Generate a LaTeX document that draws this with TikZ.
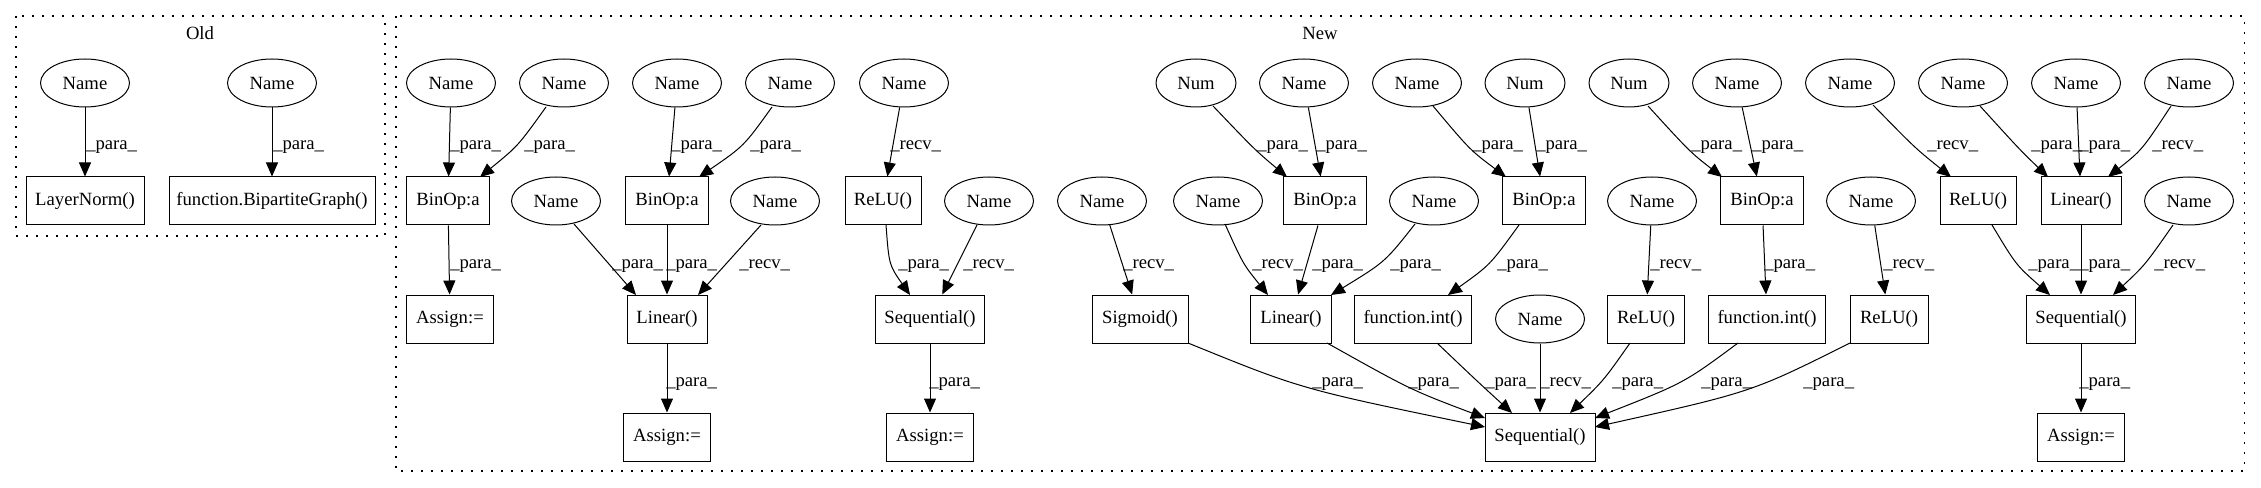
\documentclass[tikz,border=0pt]{standalone}
\usepackage{fontspec}
\setmainfont{Liberation Serif}
\usetikzlibrary{shapes.geometric,arrows.meta,calc}
\begin{document}
\begin{tikzpicture}[x=0.75pt,y=-0.75pt,
  every node/.style={font=\fontsize{14pt}{16pt}\selectfont},
  nm/.style={ellipse,draw,line width=0.75pt,minimum width=66.75pt,minimum height=36pt,inner sep=0pt},
  nu/.style={nm,minimum width=60pt},
  bx/.style={rectangle,draw,line width=0.75pt,minimum height=36pt,minimum width=#1*0.75pt,inner sep=0pt},
  lb/.style={inner sep=0pt,anchor=base west},
  e/.style={line width=0.75pt,-{Triangle[length=10.5pt,width=9pt]}},
  cl/.style={line width=0.8pt,dash pattern=on 1.5pt off 6pt}]
\useasboundingbox (0,0) rectangle (2261,488);
\draw[cl] (16,16) rectangle (385,236);
\draw[cl] (396,16) rectangle (2244,471);
\node (tOld) at (200,33) {Old};
\node (tNew) at (1320,33) {New};
% Old
\node[nm] (o1) at (85,83) {Name};
\node[nm] (o2) at (272,83) {Name};
\node[bx=118] (oLN) at (85,201) {LayerNorm()};
\node[bx=206] (oBG) at (272,201) {function.BipartiteGraph()};
% New row 1
\node[nm] (n1) at (451,83) {Name};
\node[nm] (n2) at (564,83) {Name};
\node[nm] (n3) at (677,83) {Name};
\node[nm] (n4) at (790,83) {Name};
\node[nm] (n5) at (904,83) {Name};
\node[nu] (n6) at (1196,83) {Num};
\node[nm] (n7) at (1304,83) {Name};
\node[nm] (n8) at (1417,83) {Name};
\node[nu] (n9) at (1525,83) {Num};
\node[nu] (n10) at (1629,83) {Num};
\node[nm] (n11) at (1737,83) {Name};
\node[nm] (n12) at (1850,83) {Name};
\node[nm] (n13) at (1963,83) {Name};
\node[nm] (n14) at (2076,83) {Name};
\node[nm] (n15) at (2189,83) {Name};
% row 2
\node[bx=83] (b1) at (448,201) {BinOp:a};
\node[nm] (m1) at (556,201) {Name};
\node[bx=83] (b2) at (667,201) {BinOp:a};
\node[nm] (m2) at (775,201) {Name};
\node[bx=76] (r1) at (883,201) {ReLU()};
\node[nm] (m3) at (989,201) {Name};
\node[nm] (m4) at (1102,201) {Name};
\node[nm] (m5) at (1218,201) {Name};
\node[bx=83] (b3) at (1325,201) {BinOp:a};
\node[nm] (m6) at (1434,201) {Name};
\node[bx=83] (b4) at (1544,201) {BinOp:a};
\node[nm] (m7) at (1652,201) {Name};
\node[bx=83] (b5) at (1762,201) {BinOp:a};
\node[nm] (m8) at (1871,201) {Name};
\node[bx=76] (r2) at (1978,201) {ReLU()};
\node[bx=80] (l3) at (2081,201) {Linear()};
\node[nm] (m9) at (2189,201) {Name};
% row 3
\node[bx=87] (a1) at (450,319) {Assign:=};
\node[bx=80] (l1) at (667,319) {Linear()};
\node[bx=109] (s1) at (930,319) {Sequential()};
\node[bx=96] (sg) at (1140,319) {Sigmoid()};
\node[bx=81] (l2) at (1291,319) {Linear()};
\node[bx=117] (f1) at (1413,319) {function.int()};
\node[nm] (q1) at (1540,319) {Name};
\node[bx=77] (r3) at (1646,319) {ReLU()};
\node[bx=117] (f2) at (1767,319) {function.int()};
\node[bx=78] (r4) at (1889,319) {ReLU()};
\node[bx=109] (s3) at (2081,319) {Sequential()};
% row 4
\node[bx=87] (a2) at (667,437) {Assign:=};
\node[bx=87] (a3) at (930,437) {Assign:=};
\node[bx=110] (S) at (1540,437) {Sequential()};
\node[bx=87] (a4) at (2081,437) {Assign:=};
% edges
\draw[e] (o1) -- (oLN);
\draw[e] (o2) -- (oBG);
\draw[e] (n1) -- (b1);
\draw[e] ($(n2)+(-18,24)$) .. controls (518,146) .. ($(b1)+(32,-24)$);
\draw[e] (b1) -- (a1);
\draw[e] (n3) -- (b2);
\draw[e] ($(n4)+(-18,24)$) .. controls (744,146) .. ($(b2)+(32,-24)$);
\draw[e] ($(m1)+(18,23)$) -- ($(l1)+(-31,-24)$);
\draw[e] (b2) -- (l1);
\draw[e] ($(m2)+(-14,24)$) -- ($(l1)+(31,-24)$);
\draw[e] (l1) -- (a2);
\draw[e] (n5) -- (r1);
\draw[e] ($(r1)+(3,24)$) .. controls (889,265) .. ($(s1)+(-20,-24)$);
\draw[e] (m3) -- (s1);
\draw[e] (s1) -- (a3);
\draw[e] ($(n6)+(17,23)$) .. controls (1255,150) .. ($(b3)+(-38,-24)$);
\draw[e] (n7) -- (b3);
\draw[e] (m4) -- (sg);
\draw[e] ($(m5)+(7,23)$) .. controls (1243,264) .. ($(l2)+(-23,-24)$);
\draw[e] (b3) -- (l2);
\draw[e] ($(m6)+(-19,23)$) .. controls (1385,262) .. ($(l2)+(40,-24)$);
\draw[e] ($(n8)+(16,23)$) .. controls (1470,150) .. ($(b4)+(-38,-24)$);
\draw[e] (n9) -- (b4);
\draw[e] ($(b4)+(-25,24)$) .. controls (1490,265) .. ($(f1)+(35,-24)$);
\draw[e] ($(n10)+(19,23)$) .. controls (1690,152) .. ($(b5)+(-40,-24)$);
\draw[e] (n11) -- (b5);
\draw[e] (m7) -- (r3);
\draw[e] (b5) -- (f2);
\draw[e] (m8) -- (r4);
\draw[e] ($(n12)+(23,22)$) .. controls (1915,148) .. ($(r2)+(-27,-24)$);
\draw[e] ($(n13)+(17,23)$) .. controls (2020,150) .. ($(l3)+(-33,-24)$);
\draw[e] (n14) -- (l3);
\draw[e] ($(n15)+(-18,23)$) .. controls (2142,150) .. ($(l3)+(27,-24)$);
\draw[e] ($(r2)+(14,24)$) .. controls (2016,265) .. ($(s3)+(-31,-24)$);
\draw[e] (l3) -- (s3);
\draw[e] ($(m9)+(-16,24)$) .. controls (2145,265) .. ($(s3)+(32,-24)$);
\draw[e] (s3) -- (a4);
\draw[e] ($(sg)+(48,24)$) .. controls (1301,389) .. ($(S)+(-55,-10)$);
\draw[e] ($(l2)+(36,24)$) .. controls (1411,390) .. ($(S)+(-55,-19)$);
\draw[e] ($(f1)+(24,24)$) .. controls (1478,382) .. ($(S)+(-28,-24)$);
\draw[e] (q1) -- (S);
\draw[e] ($(r3)+(-16,24)$) .. controls (1604,380) .. ($(S)+(30,-24)$);
\draw[e] ($(f2)+(-29,24)$) .. controls (1684,383) .. ($(S)+(55,-19)$);
\draw[e] ($(r4)+(-39,24)$) .. controls (1752,392) .. ($(S)+(55,-10)$);
% labels row A
\node[lb] (la1) at (86,150) {\_para\_};
\node[lb] (la2) at (273,150) {\_para\_};
\node[lb] (la3) at (450,150) {\_para\_};
\node[lb] (la4) at (524,150) {\_para\_};
\node[lb] (la5) at (671,150) {\_para\_};
\node[lb] (la6) at (750,150) {\_para\_};
\node[lb] (la7) at (890,150) {\_recv\_};
\node[lb] (la8) at (1257,150) {\_para\_};
\node[lb] (la9) at (1316,150) {\_para\_};
\node[lb] (la10) at (1472,150) {\_para\_};
\node[lb] (la11) at (1536,150) {\_para\_};
\node[lb] (la12) at (1691,150) {\_para\_};
\node[lb] (la13) at (1752,150) {\_para\_};
\node[lb] (la14) at (1927,150) {\_recv\_};
\node[lb] (la15) at (2031,150) {\_para\_};
\node[lb] (la16) at (2079,150) {\_para\_};
\node[lb] (la17) at (2152,150) {\_recv\_};
% labels row B
\node[lb] (lb1) at (450,268) {\_para\_};
\node[lb] (lb2) at (612,268) {\_para\_};
\node[lb] (lb3) at (666,268) {\_para\_};
\node[lb] (lb4) at (739,268) {\_recv\_};
\node[lb] (lb5) at (898,268) {\_para\_};
\node[lb] (lb6) at (963,268) {\_recv\_};
\node[lb] (lb7) at (1123,268) {\_recv\_};
\node[lb] (lb8) at (1252,268) {\_recv\_};
\node[lb] (lb9) at (1312,268) {\_para\_};
\node[lb] (lb10) at (1390,268) {\_para\_};
\node[lb] (lb11) at (1497,268) {\_para\_};
\node[lb] (lb12) at (1650,268) {\_recv\_};
\node[lb] (lb13) at (1764,268) {\_para\_};
\node[lb] (lb14) at (1883,268) {\_recv\_};
\node[lb] (lb15) at (2028,268) {\_para\_};
\node[lb] (lb16) at (2079,268) {\_para\_};
\node[lb] (lb17) at (2154,268) {\_recv\_};
% labels row C
\node[lb] (lc1) at (666,386) {\_para\_};
\node[lb] (lc2) at (929,386) {\_para\_};
\node[lb] (lc3) at (1312,386) {\_para\_};
\node[lb] (lc4) at (1408,386) {\_para\_};
\node[lb] (lc5) at (1485,386) {\_para\_};
\node[lb] (lc6) at (1540,386) {\_recv\_};
\node[lb] (lc7) at (1612,386) {\_para\_};
\node[lb] (lc8) at (1701,386) {\_para\_};
\node[lb] (lc9) at (1803,386) {\_para\_};
\node[lb] (lc10) at (2079,386) {\_para\_};
\end{tikzpicture}
\end{document}
